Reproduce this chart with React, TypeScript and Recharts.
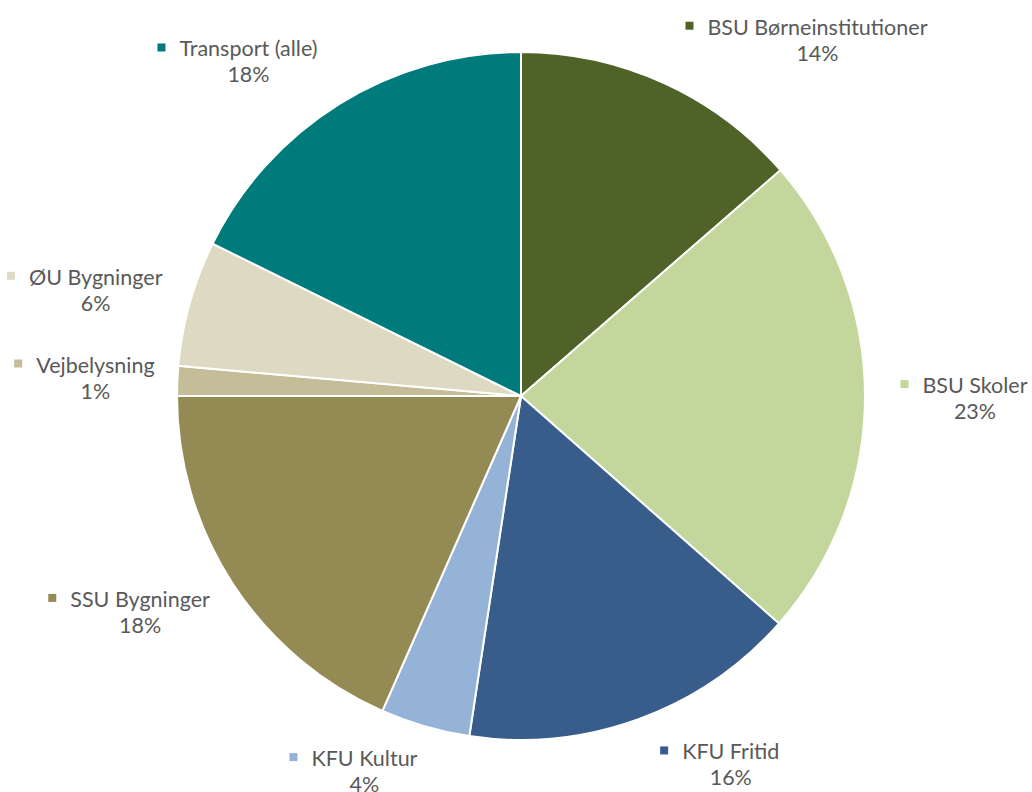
import React from "react";
import { PieChart, Pie, Cell } from "recharts";

const categories = [
  "BSU Børneinstitutioner",
  "BSU Skoler",
  "KFU Fritid",
  "KFU Kultur",
  "SSU Bygninger",
  "Vejbelysning",
  "ØU Bygninger",
  "Transport (alle)",
];
const shares = [13.6, 22.9, 15.9, 4.2, 18.4, 1.4, 5.9, 17.7];
const colors = ["#4f6228", "#c3d69b", "#385d8a", "#95b3d7", "#948a54", "#c4bd97", "#ddd9c3", "#007b7b"];

// Excel "best fit" pushes some labels sideways; small per-label nudges
const labelNudge: [number, number][] = [
  [110, -18],
  [4, -2],
  [56, 13],
  [-31, 12],
  [-4, 8],
  [24, -5],
  [8, -8],
  [-35, -19],
];

const data = categories.map((name, i) => ({ name, value: shares[i] }));

const FONT = "Lato, 'Open Sans', sans-serif";
const FONT_SIZE = 21.5;
const TEXT = "#595959";
const RAD = Math.PI / 180;

let ctx: CanvasRenderingContext2D | null = null;
function textWidth(s: string) {
  if (!ctx) ctx = document.createElement("canvas").getContext("2d");
  if (!ctx) return s.length * FONT_SIZE * 0.5;
  ctx.font = `${FONT_SIZE}px Lato`;
  return ctx.measureText(s).width;
}

function renderLabel(props: any) {
  const { cx, cy, midAngle, percent, index, name } = props;
  const [nx, ny] = labelNudge[index];
  const x = cx + 450 * Math.cos(-midAngle * RAD) + nx;
  const y = cy + 375 * Math.sin(-midAngle * RAD) + ny;
  const w = textWidth(name);
  const sq = 8;
  return (
    <g key={`lbl-${index}`}>
      <rect x={x - w / 2 - 14 - sq} y={y - 2 - 13} width={sq} height={sq} fill={colors[index]} />
      <text x={x} y={y - 2} textAnchor="middle" fontFamily={FONT} fontSize={FONT_SIZE} fill={TEXT}>
        {name}
      </text>
      <text x={x} y={y + 24} textAnchor="middle" fontFamily={FONT} fontSize={FONT_SIZE} fill={TEXT}>
        {`${Math.round(percent * 100)}%`}
      </text>
    </g>
  );
}

export default function App() {
  return (
    <div style={{ position: "absolute", left: 0, top: 0, width: 1032, height: 792, background: "#fff" }}>
      <PieChart width={1032} height={792} margin={{ top: 0, right: 0, bottom: 0, left: 0 }}>
        <Pie
          data={data}
          dataKey="value"
          nameKey="name"
          cx={521}
          cy={396}
          outerRadius={344}
          startAngle={90}
          endAngle={-270}
          stroke="#ffffff"
          strokeWidth={2}
          label={renderLabel}
          labelLine={false}
          isAnimationActive={false}
        >
          {data.map((entry, index) => (
            <Cell key={`cell-${index}`} fill={colors[index]} />
          ))}
        </Pie>
      </PieChart>
    </div>
  );
}
